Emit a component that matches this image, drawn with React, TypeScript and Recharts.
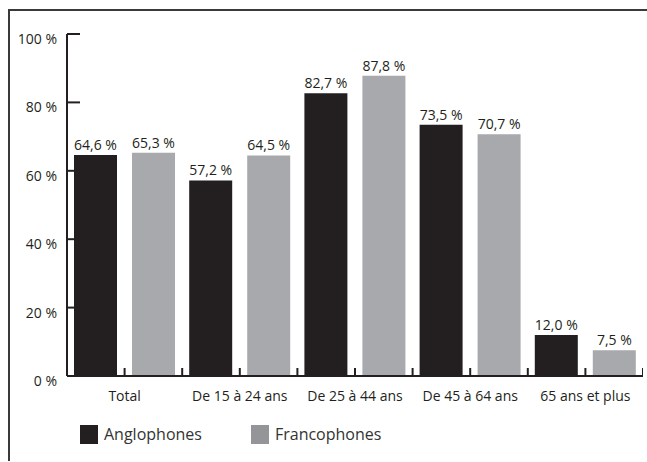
import React from 'react';
import { BarChart, Bar, XAxis, YAxis, LabelList } from 'recharts';

const categories = ['Total', 'De 15 à 24 ans', 'De 25 à 44 ans', 'De 45 à 64 ans', '65 ans et plus'];
const anglophones = [64.6, 57.2, 82.7, 73.5, 12.0];
const francophones = [65.3, 64.5, 87.8, 70.7, 7.5];
const yTicks = [0, 20, 40, 60, 80, 100];
const seriesNames = ['Anglophones', 'Francophones'];

const COLORS = ['#231f20', '#a7a9ac'];
const INK = '#231f20';
const FONT = '"Open Sans", sans-serif';

const data = categories.map((name, i) => ({ name, anglo: anglophones[i], franco: francophones[i] }));

const W = 633;
const H = 450;
const margin = { top: 23, right: 0, bottom: 50, left: 7 };
const Y_W = 50;
const Y_MARGIN = 10;
const X_MARGIN = 25;
const plotW = W - margin.left - margin.right - Y_W;
const halfBand = plotW / categories.length / 2;

const fmt = (v: number) => v.toFixed(1).replace('.', ',') + ' %';

const YTick = ({ x, y, payload }: any) => {
  const ax = x + Y_MARGIN;
  return (
    <g>
      <line x1={ax} x2={ax + 13} y1={y} y2={y} stroke={INK} strokeWidth={2} />
      <text x={x} y={y} dy={10} textAnchor="end" fill={INK} fontSize={14} fontFamily={FONT}>
        {payload.value} %
      </text>
    </g>
  );
};

const XTick = ({ x, y, payload }: any) => {
  const ay = y - X_MARGIN;
  return (
    <g>
      <line x1={x} x2={x} y1={ay} y2={ay - 8} stroke={INK} strokeWidth={2} />
      <line x1={x + halfBand} x2={x + halfBand} y1={ay} y2={ay - 8} stroke={INK} strokeWidth={2} />
      <text x={x} y={y} textAnchor="middle" fill={INK} fontSize={14} fontFamily={FONT}>
        {payload.value}
      </text>
    </g>
  );
};

const ValueLabel = ({ x, y, width, value }: any) => (
  <text x={x + width / 2} y={y - 5} textAnchor="middle" fill={INK} fontSize={14} fontFamily={FONT}>
    {fmt(value)}
  </text>
);

const App = () => {
  return (
    <div style={{ position: 'fixed', left: 0, top: 0, width: 647, height: 462, overflow: 'hidden', background: '#fff' }}>
      <div
        style={{
          position: 'absolute',
          left: 8,
          top: 9,
          width: 639,
          height: H,
          borderTop: `2px solid #3a3a3a`,
          borderLeft: `2px solid #3a3a3a`,
          fontFamily: FONT,
        }}
      >
        <BarChart width={W} height={H} data={data} margin={margin} barSize={43} barGap={15} accessibilityLayer={false}>
          <YAxis
            width={Y_W}
            domain={[0, 100]}
            ticks={yTicks}
            interval={0}
            tickLine={false}
            tickSize={0}
            tickMargin={Y_MARGIN}
            axisLine={{ stroke: INK, strokeWidth: 2 }}
            tick={<YTick />}
          />
          <XAxis
            dataKey="name"
            height={H - margin.top - margin.bottom - 342}
            interval={0}
            tickLine={false}
            tickSize={0}
            tickMargin={X_MARGIN}
            axisLine={{ stroke: INK, strokeWidth: 2 }}
            tick={<XTick />}
          />
          <Bar dataKey="anglo" name={seriesNames[0]} fill={COLORS[0]} isAnimationActive={false}>
            <LabelList dataKey="anglo" content={<ValueLabel />} />
          </Bar>
          <Bar dataKey="franco" name={seriesNames[1]} fill={COLORS[1]} isAnimationActive={false}>
            <LabelList dataKey="franco" content={<ValueLabel />} />
          </Bar>
        </BarChart>
        <div style={{ position: 'absolute', top: 414, left: 70, display: 'flex', alignItems: 'center' }}>
          {seriesNames.map((n, i) => (
            <div key={n} style={{ display: 'flex', alignItems: 'center', marginRight: 49 }}>
              <span style={{ width: 18, height: 19, background: i === 0 ? COLORS[0] : '#939598', display: 'inline-block', marginRight: 6 }} />
              <span style={{ fontSize: 16, color: '#333', lineHeight: '19px' }}>{n}</span>
            </div>
          ))}
        </div>
      </div>
    </div>
  );
};

export default App;
